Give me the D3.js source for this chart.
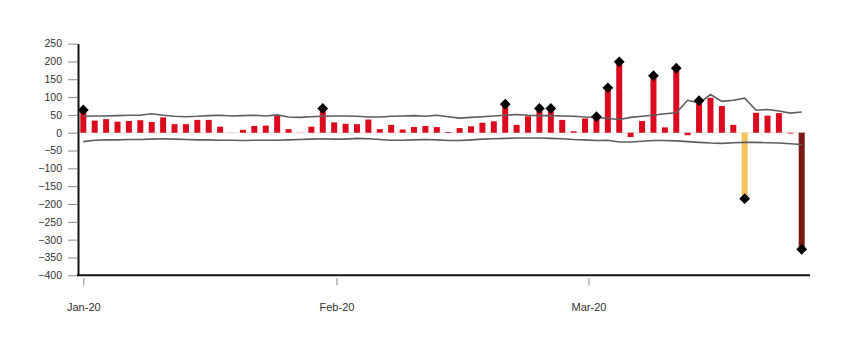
<!DOCTYPE html>
<html>
<head>
<meta charset="utf-8">
<script src="https://cdn.jsdelivr.net/npm/d3@7"></script>
<style>
  html, body { margin: 0; padding: 0; background: #fff; }
  svg { display: block; }
  text { font-family: "Liberation Sans", Arial, sans-serif; fill: #333; }
</style>
</head>
<body>
<svg id="chart" width="850" height="351"></svg>
<script>
// ---- data ----
const values = [64, 34, 38, 31, 33, 35, 30, 43, 24, 24, 36, 36, 17, 1, 8, 19,
  20, 48, 10, 1, 17, 68, 29, 25, 24, 37, 10, 22, 9, 16, 19, 16,
  2, 13, 18, 28, 32, 80, 22, 46, 68, 68, 36, 4, 40, 45, 126, 199,
  -12, 33, 160, 15, 181, -7, 90, 98, 75, 22, -185, 56, 48, 55, -2, -327];
const upper = [46, 47, 47, 48, 49, 49, 53, 49, 46, 45, 46, 48, 49, 47, 48, 49,
  47, 50, 44, 43, 45, 46, 47, 47, 46, 44, 44, 46, 47, 48, 46, 49,
  45, 41, 43, 45, 47, 49, 51, 49, 48, 48, 47, 46, 44, 43, 40, 37,
  43, 46, 49, 53, 56, 91, 83, 107, 88, 91, 97, 63, 65, 61, 55, 58];
const lower = [-25, -21, -20, -20, -19, -19, -18, -17, -18, -19, -20, -20, -21, -21, -22, -21,
  -21, -21, -20, -19, -18, -17, -18, -18, -16, -17, -19, -21, -21, -20, -19, -20,
  -22, -22, -20, -18, -17, -16, -15, -15, -15, -16, -17, -19, -20, -22, -21, -26,
  -26, -24, -22, -22, -23, -25, -27, -29, -30, -28, -27, -27, -28, -29, -31, -33];
const yTicks = [250, 200, 150, 100, 50, 0, -50, -100, -150, -200, -250, -300, -350, -400];
const xTickPos = [0, 22.2, 44.3];
const xTickLabels = ["Jan-20", "Feb-20", "Mar-20"];

// ---- drawing ----
const svg = d3.select("#chart");
const x = d3.scaleLinear().domain([0, values.length - 1]).range([83.3, 801.7]);
const y = d3.scaleLinear().domain([-400, 250]).range([275.3, 43.6]);
const barW = 6;
const special = { 58: "#f5c35c", 63: "#7a1a12" };
const red = "#dc0a1f";

// zero line
svg.append("line")
  .attr("x1", 78).attr("x2", 808)
  .attr("y1", y(0)).attr("y2", y(0))
  .attr("stroke", "#eadede").attr("stroke-width", 1);

// bars
svg.append("g").selectAll("rect").data(values).join("rect")
  .attr("x", (d, i) => x(i) - barW / 2)
  .attr("width", barW)
  .attr("y", d => y(Math.max(0, d)))
  .attr("height", d => Math.max(0.8, Math.abs(y(d) - y(0))))
  .attr("fill", (d, i) => special[i] || (Math.abs(d) < 2 ? "#f1c9cc" : red));

// band lines
const line = d3.line().x((d, i) => x(i)).y(d => y(d)).curve(d3.curveLinear);
[upper, lower].forEach(arr => {
  svg.append("path").datum(arr)
    .attr("d", line)
    .attr("fill", "none")
    .attr("stroke", "#5e5e5e")
    .attr("stroke-width", 1.6);
});

// diamonds for values outside the band
const sym = d3.symbol().type(d3.symbolSquare).size(58);
svg.append("g").selectAll("path")
  .data(values.map((v, i) => ({ v, i })).filter(d => d.v > upper[d.i] || d.v < lower[d.i]))
  .join("path")
  .attr("d", sym)
  .attr("transform", d => `translate(${x(d.i)},${y(d.v)}) rotate(45)`)
  .attr("fill", "#000");

// y axis
const yAxis = d3.axisLeft(y).tickValues(yTicks).tickSize(10).tickPadding(6).tickSizeOuter(0);
const gy = svg.append("g").attr("transform", "translate(78,0)").call(yAxis);
gy.select(".domain").attr("stroke", "#111").attr("stroke-width", 2);
gy.selectAll(".tick line").attr("stroke", "#8a8a8a").attr("stroke-width", 1);
gy.selectAll(".tick text").attr("font-size", 10.5).attr("fill", "#333")
  .style("font-family", "'Liberation Sans', Arial, sans-serif");

// x axis
const xAxis = d3.axisBottom(x).tickValues(xTickPos)
  .tickFormat((d, i) => xTickLabels[i]).tickSize(9).tickPadding(19).tickSizeOuter(0);
const gx = svg.append("g").attr("transform", `translate(0,${y(-400)})`).call(xAxis);
gx.select(".domain").attr("d", "M77,0H810").attr("stroke", "#111").attr("stroke-width", 2);
gx.selectAll(".tick line").attr("stroke", "#8a8a8a").attr("y1", 3).attr("y2", 10);
gx.selectAll(".tick text").attr("font-size", 11).attr("fill", "#333")
  .style("font-family", "'Liberation Sans', Arial, sans-serif");
</script>
</body>
</html>
